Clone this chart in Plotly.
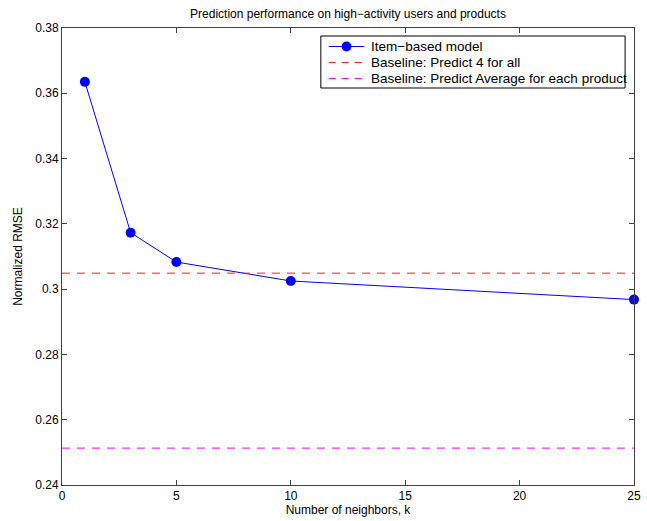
import plotly.graph_objects as go

k_values = [1, 3, 5, 10, 25]
rmse_item = [0.3635, 0.3173, 0.3083, 0.3025, 0.2968]
baseline_4 = 0.3049
baseline_avg = 0.2513
x_range = [0, 25]
y_range = [0.24, 0.38]
x_ticks = [0, 5, 10, 15, 20, 25]
y_ticks = [0.24, 0.26, 0.28, 0.30, 0.32, 0.34, 0.36, 0.38]
y_ticklabels = ["0.24", "0.26", "0.28", "0.3", "0.32", "0.34", "0.36", "0.38"]
legend_names = ["Item\u2212based model", "Baseline: Predict 4 for all",
                "Baseline: Predict Average for each product"]
colors = ["#0000ff", "#ff2020", "#ff00ff"]

font = "Liberation Sans, Arial, Helvetica, sans-serif"
W, H = 647, 521
L, R, T, B = 62, 6, 28, 36
pw, ph = W - L - R, H - T - B


def px(x):
    return (x - L) / pw


def py(y):
    return 1 - (y - T) / ph


fig = go.Figure()
fig.add_trace(go.Scatter(
    x=k_values, y=rmse_item, mode="lines+markers", name=legend_names[0],
    line=dict(color=colors[0], width=1),
    marker=dict(color=colors[0], size=10),
    cliponaxis=False,
))
fig.add_trace(go.Scatter(
    x=x_range, y=[baseline_4, baseline_4], mode="lines", name=legend_names[1],
    line=dict(color=colors[1], width=1, dash="8px,7px"),
))
fig.add_trace(go.Scatter(
    x=x_range, y=[baseline_avg, baseline_avg], mode="lines", name=legend_names[2],
    line=dict(color=colors[2], width=1, dash="8px,7px"),
))

axis_common = dict(
    showgrid=False, zeroline=False, showline=True, linecolor="#404040", linewidth=1,
    mirror="ticks", ticks="inside", ticklen=5, tickcolor="#404040",
    tickfont=dict(size=12, color="#000000", family=font),
    ticklabeloverflow="allow",
)
fig.update_xaxes(range=x_range, tickvals=x_ticks,
                 title=dict(text="Number of neighbors, k", font=dict(size=12, color="#000000", family=font), standoff=3),
                 **axis_common)
fig.update_yaxes(range=y_range, tickvals=y_ticks, ticktext=y_ticklabels,
                 title=dict(text="Normalized RMSE", font=dict(size=12, color="#000000", family=font), standoff=10),
                 **axis_common)

# custom legend box (MATLAB style)
shapes = [dict(type="rect", xref="paper", yref="paper",
               x0=px(324), x1=px(632), y0=py(88), y1=py(36),
               line=dict(color="#000000", width=1), fillcolor="#ffffff", layer="above")]
annotations = []
rows = [46.5, 62.5, 78.5]
dashes = ["solid", "7px,6px", "7px,6px"]
for i, (name, yy) in enumerate(zip(legend_names, rows)):
    shapes.append(dict(type="line", xref="paper", yref="paper",
                       x0=px(332), x1=px(368), y0=py(yy), y1=py(yy),
                       line=dict(color=colors[i], width=1, dash=dashes[i]), layer="above"))
    annotations.append(dict(xref="paper", yref="paper", x=px(373), y=py(yy),
                            xanchor="left", yanchor="middle", text=name, showarrow=False,
                            font=dict(size=13.5, family=font, color="#000000")))
shapes.append(dict(type="circle", xref="paper", yref="paper",
                   x0=px(345), x1=px(355), y0=py(rows[0] + 5), y1=py(rows[0] - 5),
                   line=dict(color=colors[0], width=0), fillcolor=colors[0], layer="above"))

fig.update_layout(
    width=W, height=H,
    margin=dict(l=L, r=R, t=T, b=B),
    paper_bgcolor="#ffffff", plot_bgcolor="#ffffff",
    font=dict(family=font, size=12, color="#000000"),
    title=dict(text="Prediction performance on high\u2212activity users and products",
               x=0.5, xanchor="center", xref="paper", y=1 - 14 / H, yanchor="middle",
               font=dict(size=12, color="#000000", family=font)),
    showlegend=False,
    shapes=shapes,
    annotations=annotations,
)

fig.write_html("out.html")
